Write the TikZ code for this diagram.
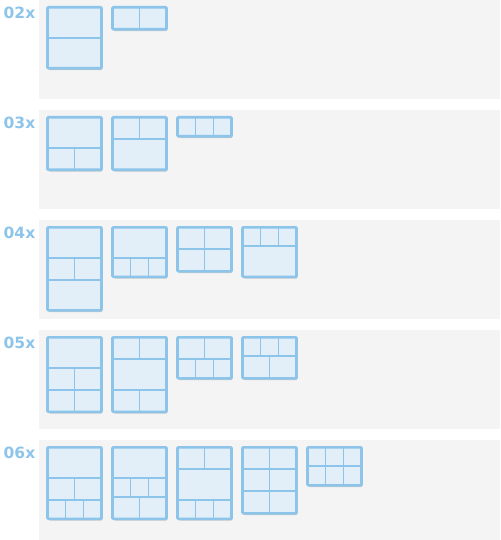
\documentclass[tikz,border=0pt]{standalone}
\usepackage{fontspec}
\newfontfamily\gridfont{DejaVu Sans}
\usepackage{tikz}
\usetikzlibrary{positioning}
\definecolor{GridBlue}{HTML}{8CC4EA}
\definecolor{GridIce}{HTML}{E2EFF9}
\definecolor{GridPanel}{HTML}{F4F4F4}
\definecolor{GridShadow}{HTML}{B9B9B9}
\tikzset{
gridpanel/.style={fill=GridPanel},
gridlabel/.style={anchor=base west, inner sep=0pt, text=GridBlue,
  font=\gridfont\bfseries\fontsize{15.5}{15.5}\selectfont},
gridcell/.style={draw=GridBlue, line width=1.8pt},
gridframe/.style={draw=GridBlue, line width=2.6pt, rounded corners=1pt},
gridshadow/.style={fill=GridShadow, rounded corners=1.5pt, opacity=0.7}
}
\newcommand{\layoutbox}[3]{%
  \xdef\boxbot{#2}%
  \foreach \c in {#3}{%
    \pgfmathsetmacro{\rowh}{\c==1 ? 30.5 : (\c==2 ? 22 : 19)}%
    \pgfmathsetmacro{\tmpbot}{\boxbot+\rowh}%
    \xdef\boxbot{\tmpbot}%
  }%
  \fill[gridshadow] (#1+1,#2+1.5) rectangle (#1+55.2,\boxbot+1.9);
  \fill[GridIce] (#1,#2) rectangle (#1+54,\boxbot);
  \xdef\rowtop{#2}%
  \foreach \c in {#3}{%
    \pgfmathsetmacro{\rowh}{\c==1 ? 30.5 : (\c==2 ? 22 : 19)}%
    \pgfmathsetmacro{\rowbot}{\rowtop+\rowh}%
    \draw[gridcell] (#1,\rowbot) -- (#1+54,\rowbot);
    \ifnum\c>1
      \foreach \k in {2,...,\c}{%
        \draw[gridcell] ({#1+54*(\k-1)/\c},\rowtop) -- ({#1+54*(\k-1)/\c},\rowbot);
      }%
    \fi
    \xdef\rowtop{\rowbot}%
  }%
  \draw[gridframe] (#1,#2) rectangle (#1+54,\boxbot);
}

\begin{document}
\begin{tikzpicture}[x=1pt, y=-1pt]
\useasboundingbox (0,0) rectangle (500,540);

\fill[gridpanel] (39,0) rectangle (500,99);
\fill[gridpanel] (39,110) rectangle (500,209);
\fill[gridpanel] (39,220) rectangle (500,319);
\fill[gridpanel] (39,330) rectangle (500,429);
\fill[gridpanel] (39,440) rectangle (500,540);

\node[gridlabel] (lbl02) at (3.5,18.3) {02x};
\node[gridlabel] (lbl03) at (3.5,128.3) {03x};
\node[gridlabel] (lbl04) at (3.5,238.3) {04x};
\node[gridlabel] (lbl05) at (3.5,348.3) {05x};
\node[gridlabel] (lbl06) at (3.5,458.3) {06x};

\layoutbox{47.5}{7.3}{1,1}
\layoutbox{112.5}{7.3}{2}

\layoutbox{47.5}{117.3}{1,2}
\layoutbox{112.5}{117.3}{2,1}
\layoutbox{177.5}{117.3}{3}

\layoutbox{47.5}{227.3}{1,2,1}
\layoutbox{112.5}{227.3}{1,3}
\layoutbox{177.5}{227.3}{2,2}
\layoutbox{242.5}{227.3}{3,1}

\layoutbox{47.5}{337.3}{1,2,2}
\layoutbox{112.5}{337.3}{2,1,2}
\layoutbox{177.5}{337.3}{2,3}
\layoutbox{242.5}{337.3}{3,2}

\layoutbox{47.5}{447.3}{1,2,3}
\layoutbox{112.5}{447.3}{1,3,2}
\layoutbox{177.5}{447.3}{2,1,3}
\layoutbox{242.5}{447.3}{2,2,2}
\layoutbox{307.5}{447.3}{3,3}
\end{tikzpicture}
\end{document}
